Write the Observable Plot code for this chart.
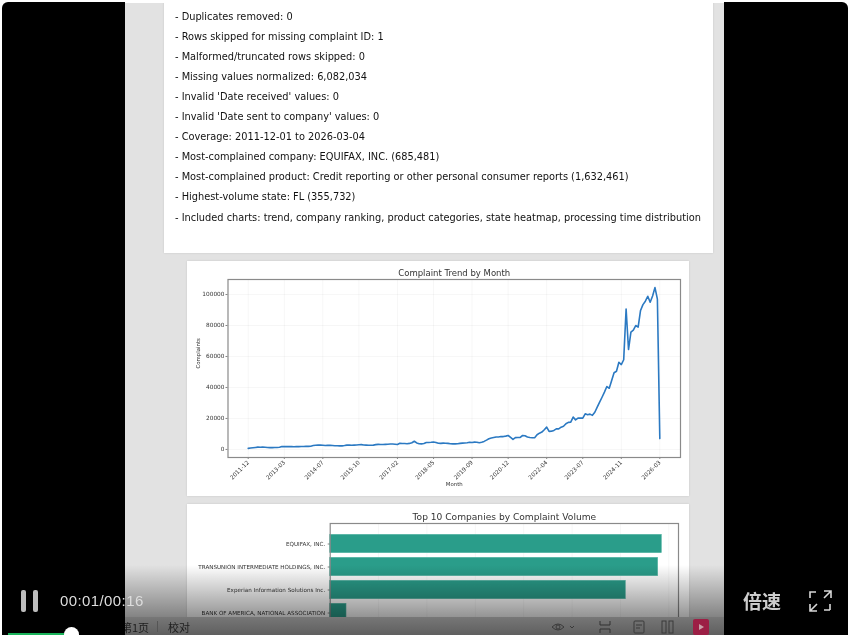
<!DOCTYPE html>
<html><head><meta charset="utf-8">
<script src="https://cdn.jsdelivr.net/npm/d3@7"></script>
<script src="https://cdn.jsdelivr.net/npm/@observablehq/plot@0.6"></script>
<style>
html,body{margin:0;padding:0;background:#fff;width:850px;height:635px;overflow:hidden}
body{position:relative;font-family:"DejaVu Sans",sans-serif}
.abs{position:absolute}
#blur{position:absolute;left:0;top:0;width:850px;height:635px;filter:blur(.45px)}
#doc{position:absolute;left:125px;top:3px;width:599px;height:632px;background:#e2e2e2;overflow:hidden}
.card{position:absolute;background:#fff;box-shadow:0 0 2px rgba(0,0,0,.12)}
#summary p{position:absolute;margin:0;left:11px;font-size:9.8px;line-height:14px;color:#111;white-space:nowrap}
.side{position:absolute;background:#000;top:2px;height:633px}
#shade{position:absolute;left:0;top:562px;width:599px;height:52px;background:linear-gradient(to bottom,rgba(0,0,0,0),rgba(0,0,0,.42))}
#bar{position:absolute;left:0;top:614px;width:599px;height:18px;background:linear-gradient(to bottom,#777,#5f5f5f);color:#1e1e1e;font-size:11px}
svg text{font-family:"DejaVu Sans",sans-serif}
#icons{position:absolute;left:0;top:0}
</style></head><body>
<div id="blur">
 <div id="doc">
  <div class="card" id="summary" style="left:39px;top:-3px;width:549px;height:253px"></div>
  <div class="card" id="c1" style="left:62px;top:258px;width:502px;height:235px"></div>
  <div class="card" id="c2" style="left:62px;top:501px;width:502px;height:140px;overflow:hidden"></div>
  <div id="shade"></div>
  <div id="bar">
    <span class="abs" style="left:-4px;top:2px;font-family:'Noto Sans CJK SC'">第1页</span>
    <span class="abs" style="left:32px;top:4px;width:1px;height:11px;background:#555"></span>
    <span class="abs" style="left:43px;top:2px;font-family:'Noto Sans CJK SC'">校对</span>
  </div>
 </div>
 <div class="side" style="left:2px;width:123px;border-radius:6px 0 0 0"></div>
 <div class="side" style="left:724px;width:124px;border-radius:0 6px 0 0"></div>
 <div class="abs" style="left:21px;top:590px;width:5px;height:22px;background:#bdbdbd;border-radius:2px"></div>
 <div class="abs" style="left:33px;top:590px;width:5px;height:22px;background:#bdbdbd;border-radius:2px"></div>
 <div class="abs" style="left:60px;top:592px;font-size:15px;color:#ddd;font-family:'Liberation Sans';letter-spacing:.4px;white-space:nowrap">00:01/00:16</div>
 <div class="abs" style="left:743px;top:587px;font-size:19px;font-weight:700;color:#ccc;font-family:'Noto Sans CJK SC';white-space:nowrap">倍速</div>
 <div class="abs" style="left:8px;top:633px;width:60px;height:2px;background:#19b35a"></div>
 <div class="abs" style="left:64px;top:627px;width:15px;height:15px;background:#fff;border-radius:50%"></div>
 <svg id="icons" width="850" height="635" fill="none">
  <g stroke="#3a3a3a" stroke-width="1">
   <path d="M552 627q6-6 12 0q-6 6-12 0z"/><circle cx="558" cy="627" r="2"/>
   <path d="M570 626l2 2l2-2"/>
   <path d="M600 621v4h10v-4M600 633v-4h10v4" stroke="#333"/>
   <rect x="634" y="621" width="10" height="12" rx="1"/><path d="M636 625h6M636 628h4"/>
   <rect x="662" y="621" width="4" height="12"/><rect x="669" y="621" width="4" height="12"/>
  </g>
  <rect x="693" y="619" width="16" height="16" rx="2" fill="#9c1f45"/>
  <path d="M699 624l5 3l-5 3z" fill="#c9a0a8"/>
  <g stroke="#d8d8d8" stroke-width="1.6">
   <path d="M810 598v-6h6M830 610v-6M830 610h-6"/>
   <path d="M824 591h7v7M831 591l-7 7M810 604v7h7M810 611l7-7"/>
  </g>
 </svg>
</div>
<script>
const summaryLines = [
 "- Duplicates removed: 0",
 "- Rows skipped for missing complaint ID: 1",
 "- Malformed/truncated rows skipped: 0",
 "- Missing values normalized: 6,082,034",
 "- Invalid 'Date received' values: 0",
 "- Invalid 'Date sent to company' values: 0",
 "- Coverage: 2011-12-01 to 2026-03-04",
 "- Most-complained company: EQUIFAX, INC. (685,481)",
 "- Most-complained product: Credit reporting or other personal consumer reports (1,632,461)",
 "- Highest-volume state: FL (355,732)",
 "- Included charts: trend, company ranking, product categories, state heatmap, processing time distribution"
];
const monthly = [
 700,900,1100,1300,1500,1400,1500,1400,1300,1200,1200,1300,1300,1400,1900,1800,
 1800,1800,1800,1700,1800,1800,1900,1900,2000,2000,2100,2500,2700,2800,2900,2700,
 2500,2600,2600,2500,2400,2400,2300,2300,2500,2800,2800,2700,2800,2900,3000,
 3100,2900,2800,2700,2700,2800,3100,3300,3200,3200,3300,3400,3500,3500,3400,3200,
 4000,3800,3800,3700,3900,4300,5300,4200,3700,3600,3800,4500,4500,4600,4800,
 4500,4000,3900,4100,4000,3900,3700,3600,3600,3700,3900,4100,4200,4300,4600,
 4500,4700,4600,4300,4700,5200,6000,6900,7400,7700,8000,8000,8300,8300,8600,9000,7800,6500,7600,7700,7800,9000,8800,8000,7700,7500,7600,
 9500,10500,11200,12700,14400,11600,11800,12300,13300,13300,14400,15000,16600,17500,17600,20900,19100,20200,20200,20200,23000,22400,22800,
 22000,24000,27300,30500,33700,37000,40600,39500,44500,49500,50500,56300,54800,57900,
 90700,64500,75700,77000,80000,79000,89700,93500,95700,98900,95000,99000,104500,97000,7000
];
const monthTicks = ["2011-12","2013-03","2014-07","2015-10","2017-02","2018-05","2019-09","2020-12","2022-04","2023-07","2024-11","2026-03"];
const companies = ["EQUIFAX, INC.","TRANSUNION INTERMEDIATE HOLDINGS, INC.","Experian Information Solutions Inc.","BANK OF AMERICA, NATIONAL ASSOCIATION"];
const companyCounts = [685481,678000,611000,33700];

const monthIndex = label => { const [y,m] = label.split("-").map(Number); return (y-2011)*12 + (m-12); };
const trend = monthly.map((v,i)=>({i,v}));

const sum = document.getElementById("summary");
summaryLines.forEach((t,k)=>{
  const p=document.createElement("p"); p.textContent=t; p.style.top=(9.7+k*20.08)+"px"; sum.appendChild(p);
});

const ink="#333", border="#8a8a8a";
const chart1 = Plot.plot({
  width:502,height:235,marginLeft:40.5,marginRight:9,marginTop:18,marginBottom:39,
  style:{background:"transparent",fontFamily:"DejaVu Sans",overflow:"visible"},
  x:{domain:[-8.4,179.6]},
  y:{domain:[-5200,109700]},
  marks:[
    Plot.gridX(monthTicks.map(monthIndex),{stroke:"#000",strokeOpacity:.05,strokeWidth:.7}),
    Plot.gridY(d3.range(0,100001,20000),{stroke:"#000",strokeOpacity:.05,strokeWidth:.7}),
    Plot.axisX(monthTicks.map(monthIndex),{tickFormat:i=>monthTicks.find(l=>monthIndex(l)===i),tickRotate:-45,fontSize:5.8,fill:ink,stroke:ink,tickSize:2,tickPadding:2,strokeWidth:.6,label:null}),
    Plot.axisY(d3.range(0,100001,20000),{tickFormat:d=>String(d),fontSize:5.8,fill:ink,stroke:ink,tickSize:2,tickPadding:1.5,strokeWidth:.6,label:null}),
    Plot.lineY(trend,{x:"i",y:"v",stroke:"#2b79c2",strokeWidth:1.6,curve:"linear"}),
    Plot.frame({stroke:border,strokeWidth:1.2}),
    Plot.text(["Complaint Trend by Month"],{frameAnchor:"top",dy:-10,fontSize:8.5,fill:"#333"}),
    Plot.text(["Month"],{frameAnchor:"bottom",dy:28,fontSize:5.4,fill:ink}),
    Plot.text(["Complaints"],{frameAnchor:"left",dx:-29.5,rotate:-90,fontSize:5.4,fill:ink})
  ]
});
document.getElementById("c1").appendChild(chart1);

const rows = companies.map((c,k)=>({c,v:companyCounts[k]}));
const chart2 = Plot.plot({
  width:502,height:140,marginLeft:142.7,marginRight:11,marginTop:19,marginBottom:2,
  style:{background:"transparent",fontFamily:"DejaVu Sans",overflow:"visible"},
  x:{domain:[0,720000],axis:null},
  y:{domain:companies,range:[25.7,122.3],padding:.2,align:.5,round:false,axis:null},
  marks:[
    Plot.gridX(d3.range(100000,700001,100000),{stroke:"#000",strokeOpacity:.05,strokeWidth:.7}),
    Plot.barX(rows,{x:"v",y:"c",fill:"#2a9d8a",stroke:"#58b6a5",strokeWidth:.6}),
    Plot.axisY({fontSize:5.6,fill:ink,stroke:ink,tickSize:2,tickPadding:3,strokeWidth:.6,label:null}),
    Plot.frame({stroke:border,strokeWidth:1.2}),
    Plot.text(["Top 10 Companies by Complaint Volume"],{frameAnchor:"top",dy:-10,fontSize:9.1,fill:"#333"})
  ]
});
document.getElementById("c2").appendChild(chart2);
</script>
</body></html>
